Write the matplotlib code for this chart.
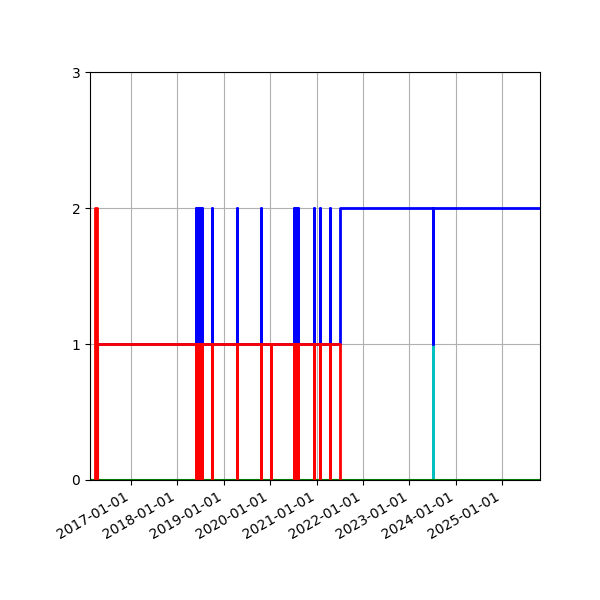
import matplotlib
matplotlib.use("Agg")
import matplotlib.pyplot as plt
import matplotlib.dates as mdates
import numpy as np

start = np.datetime64("2016-02-14")
end = np.datetime64("2025-10-25")
red_start = np.datetime64("2016-03-22")
red_drop = np.datetime64("2016-04-08")
green_event = np.datetime64("2016-04-15")
events_both = ["2018-06-01","2018-06-08","2018-06-15","2018-06-22","2018-06-29","2018-07-06","2018-07-13",
               "2018-10-01","2019-04-13","2019-10-20","2020-07-05","2020-07-20","2020-08-05",
               "2020-12-10","2021-01-25","2021-04-15"]
events_red_only = ["2020-01-08"]
switch = np.datetime64("2021-07-01")
cyan_event = np.datetime64("2023-07-05")

def spikes(base, top, evs):
    xs, ys = [], []
    for e in evs:
        e = np.datetime64(e)
        xs += [e, e, e]; ys += [base, top, base]
    return xs, ys

fig, ax = plt.subplots(figsize=(6, 6), dpi=100)
fig.subplots_adjust(left=0.15, right=0.9, top=0.88, bottom=0.2)

ax.plot([start, cyan_event, cyan_event, cyan_event, end], [0, 0, 1, 0, 0], color="c", lw=2)
ax.plot([start, green_event, green_event, green_event, end], [0, 0, 1, 0, 0], color="g", lw=1.5)
bx, by = spikes(1, 2, sorted(events_both))
bxs = [red_drop] + bx + [switch, switch, cyan_event, cyan_event, cyan_event, end]
bys = [1] + by + [1, 2, 2, 1, 2, 2]
ax.plot(bxs, bys, color="b", lw=2)
allev = sorted(events_both + events_red_only)
rx, ry = spikes(1, 0, allev)
rxs = [red_start, red_start, red_drop, red_drop, red_drop] + rx + [switch, switch]
rys = [0, 2, 2, 0, 1] + ry + [1, 0]
ax.plot(rxs, rys, color="r", lw=2)

ax.set_xlim(start, end)
ax.set_ylim(0, 3)
ax.set_yticks([0, 1, 2, 3])
ax.xaxis.set_major_locator(mdates.YearLocator())
ax.xaxis.set_major_formatter(mdates.DateFormatter("%Y-%m-%d"))
ax.grid(True)
fig.autofmt_xdate()
fig.savefig("out.png")
